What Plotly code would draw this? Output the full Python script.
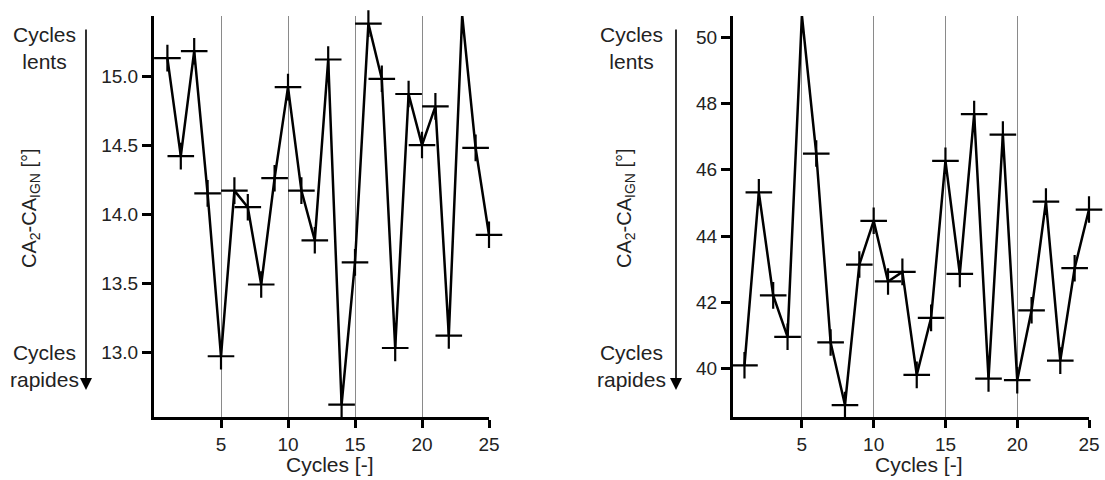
import plotly.graph_objects as go

cycles = list(range(1, 26))
left_values = [15.13, 14.42, 15.18, 14.15, 12.97, 14.17, 14.05, 13.49, 14.26, 14.92,
               14.17, 13.81, 15.12, 12.62, 13.65, 15.38, 14.98, 13.03, 14.87, 14.50,
               14.78, 13.12, 15.44, 14.48, 13.85]
right_values = [40.10, 45.32, 42.21, 40.96, 50.66, 46.49, 40.79, 38.90, 43.14, 44.46,
                42.63, 42.92, 39.81, 41.53, 46.27, 42.86, 47.68, 39.70, 47.06, 39.65,
                41.76, 45.04, 40.24, 43.03, 44.80]
x_ticks = [5, 10, 15, 20, 25]
left_yticks = [13.0, 13.5, 14.0, 14.5, 15.0]
left_yticklabels = ["13.0", "13.5", "14.0", "14.5", "15.0"]
right_yticks = [40, 42, 44, 46, 48, 50]

W, H = 1105, 480
FONT = "Liberation Sans, Arial, sans-serif"

def px(x):
    return x / W

def py(y):
    return 1 - y / H

fig = go.Figure()
trace_style = dict(mode="lines+markers",
                   line=dict(color="black", width=2.5),
                   marker=dict(symbol="cross-thin", size=19, line=dict(color="black", width=2.2)),
                   cliponaxis=False, showlegend=False)
fig.add_trace(go.Scatter(x=cycles, y=left_values, xaxis="x", yaxis="y", **trace_style))
fig.add_trace(go.Scatter(x=cycles, y=right_values, xaxis="x2", yaxis="y2", **trace_style))

xaxis_common = dict(tickvals=x_ticks, ticks="outside", ticklen=8, tickwidth=3,
                    tickcolor="black", showline=True, linecolor="black", linewidth=3,
                    showgrid=True, gridcolor="#8a8a8a", gridwidth=1, zeroline=False,
                    automargin=False,
                    tickfont=dict(family=FONT, size=19, color="#222"))
yaxis_common = dict(ticks="outside", ticklen=9, tickwidth=3, tickcolor="black",
                    showline=True, linecolor="black", linewidth=3, showgrid=False,
                    zeroline=False, automargin=False,
                    tickfont=dict(family=FONT, size=19, color="#222"))

ydom = [py(417), py(16)]
fig.update_layout(
    width=W, height=H,
    margin=dict(l=0, r=0, t=0, b=0),
    paper_bgcolor="white", plot_bgcolor="white",
    xaxis=dict(domain=[px(154), px(489)], range=[0, 25], anchor="y", **xaxis_common),
    yaxis=dict(domain=ydom, range=[12.53, 15.435], anchor="x",
               tickvals=left_yticks, ticktext=left_yticklabels, **yaxis_common),
    xaxis2=dict(domain=[px(733), px(1089)], range=[0.2, 25], anchor="y2", **xaxis_common),
    yaxis2=dict(domain=ydom, range=[38.54, 50.64], anchor="x2",
                tickvals=right_yticks, **yaxis_common),
)

annos = []
for xc, arrow_x, title_x, xt in [(44, 86, 30, 329.5), (631, 676, 625, 919)]:
    annos.append(dict(text="Cycles<br>lents", x=px(xc), y=py(47.5), xref="paper", yref="paper",
                      showarrow=False, xanchor="center", yanchor="middle",
                      font=dict(family=FONT, size=21, color="#222")))
    annos.append(dict(text="Cycles<br>rapides", x=px(xc), y=py(365.5), xref="paper", yref="paper",
                      showarrow=False, xanchor="center", yanchor="middle",
                      font=dict(family=FONT, size=21, color="#222")))
    annos.append(dict(text="CA<sub>2</sub>-CA<sub>IGN</sub> [°]", x=px(title_x), y=py(208),
                      xref="paper", yref="paper", showarrow=False, textangle=-90,
                      xanchor="center", yanchor="middle",
                      font=dict(family=FONT, size=20, color="#222")))
    annos.append(dict(text="", x=px(arrow_x), y=py(390), xref="paper", yref="paper",
                      ax=0, ay=-(390 - 28), axref="pixel", ayref="pixel",
                      showarrow=True, arrowhead=2, arrowsize=1.5, arrowwidth=1.6,
                      arrowcolor="black"))
    annos.append(dict(text="Cycles [-]", x=px(xt), y=py(464), xref="paper", yref="paper",
                      showarrow=False, xanchor="center", yanchor="middle",
                      font=dict(family=FONT, size=21, color="#222")))
fig.update_layout(annotations=annos)

fig.write_html("out.html", config={"displayModeBar": False},
               post_script="document.body.style.margin='0px';")
